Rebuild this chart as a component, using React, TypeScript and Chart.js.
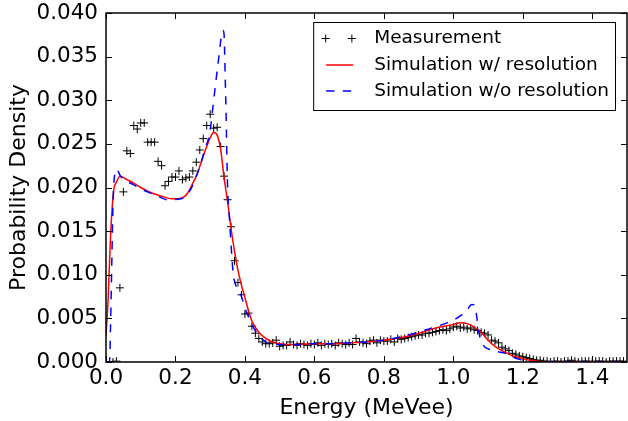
import React, { useEffect, useRef } from "react";
import { Chart, registerables } from "chart.js";

Chart.register(...registerables);

// ---- Data ----
const measEnergy = [
  0.01, 0.02, 0.03, 0.04, 0.05, 0.06, 0.07, 0.08, 0.09, 0.1,
  0.11, 0.12, 0.13, 0.14, 0.15, 0.16, 0.17, 0.18, 0.19, 0.2,
  0.21, 0.22, 0.23, 0.24, 0.25, 0.26, 0.27, 0.28, 0.29, 0.3,
  0.31, 0.32, 0.33, 0.34, 0.35, 0.36, 0.37, 0.38, 0.39, 0.4,
  0.41, 0.42, 0.43, 0.44, 0.45, 0.46, 0.47, 0.48, 0.49, 0.5,
  0.51, 0.52, 0.53, 0.54, 0.55, 0.56, 0.57, 0.58, 0.59, 0.6,
  0.61, 0.62, 0.63, 0.64, 0.65, 0.66, 0.67, 0.68, 0.69, 0.7,
  0.71, 0.72, 0.73, 0.74, 0.75, 0.76, 0.77, 0.78, 0.79, 0.8,
  0.81, 0.82, 0.83, 0.84, 0.85, 0.86, 0.87, 0.88, 0.89, 0.9,
  0.91, 0.92, 0.93, 0.94, 0.95, 0.96, 0.97, 0.98, 0.99, 1.0,
  1.01, 1.02, 1.03, 1.04, 1.05, 1.06, 1.07, 1.08, 1.09, 1.1,
  1.11, 1.12, 1.13, 1.14, 1.15, 1.16, 1.17, 1.18, 1.19, 1.2,
  1.21, 1.22, 1.23, 1.24, 1.25, 1.26, 1.27, 1.28, 1.29, 1.3,
  1.31, 1.32, 1.33, 1.34, 1.35, 1.36, 1.37, 1.38, 1.39, 1.4,
  1.41, 1.42, 1.43, 1.44, 1.45, 1.46, 1.47, 1.48, 1.49,
];
const measDensity = [
  0, 0, 0.0001, 0.0085, 0.0195, 0.0242, 0.0239, 0.0271, 0.0267, 0.0274,
  0.0274, 0.0252, 0.0252, 0.0252, 0.023, 0.0225, 0.0202, 0.0207, 0.0212, 0.0212,
  0.0219, 0.0209, 0.0211, 0.0212, 0.0219, 0.0229, 0.0243, 0.0256, 0.0271, 0.0284,
  0.0268, 0.0269, 0.0247, 0.0213, 0.0186, 0.0155, 0.0116, 0.0091, 0.0077, 0.0055,
  0.0056, 0.0041, 0.0033, 0.0027, 0.0023, 0.0021, 0.0021, 0.0022, 0.0025, 0.0018,
  0.0019, 0.0019, 0.0023, 0.002, 0.0019, 0.0021, 0.002, 0.0019, 0.0021, 0.002,
  0.0022, 0.0019, 0.0021, 0.002, 0.0021, 0.0019, 0.0022, 0.0021, 0.002, 0.0022,
  0.002, 0.0027, 0.0023, 0.0022, 0.0021, 0.0024, 0.0025, 0.0022, 0.0025, 0.0024,
  0.0024, 0.0026, 0.0023, 0.0027, 0.0026, 0.0027, 0.0028, 0.0029, 0.003, 0.0031,
  0.0031, 0.0033, 0.0033, 0.0034, 0.0035, 0.0036, 0.0037, 0.0036, 0.0038, 0.004,
  0.0041, 0.0039, 0.004, 0.0038, 0.0039, 0.0037, 0.0036, 0.0034, 0.0033, 0.0031,
  0.0025, 0.0024, 0.0022, 0.0017, 0.0015, 0.0013, 0.001, 0.0009, 0.0007, 0.0006,
  0.0005, 0.0004, 0.0003, 0.0002, 0.0002, 0.0001, 0.0001, 0, 0.0001, 0.0001,
  0, 0.0001, 0.0001, 0.0002, 0.0001, 0, 0.0001, 0.0001, 0.0001, 0,
  0.0001, 0.0001, 0.0001, 0, 0.0001, 0.0001, 0.0001, 0.0001, 0.0001,
];

const simResEnergy = [
  0, 0.006, 0.0135, 0.022, 0.03, 0.04, 0.06, 0.08, 0.1, 0.13,
  0.16, 0.19, 0.21, 0.23, 0.24, 0.25, 0.26, 0.27, 0.28, 0.29,
  0.3, 0.31, 0.32, 0.33, 0.34, 0.35, 0.36, 0.37, 0.38, 0.39,
  0.4, 0.41, 0.42, 0.44, 0.46, 0.48, 0.5, 0.55, 0.6, 0.65,
  0.7, 0.75, 0.8, 0.85, 0.9, 0.95, 1.0, 1.02, 1.04, 1.06,
  1.08, 1.1, 1.12, 1.14, 1.16, 1.18, 1.2, 1.22, 1.24, 1.26,
  1.3, 1.5,
];
const simResDensity = [
  0.003, 0.0071, 0.0148, 0.0196, 0.0206, 0.0213, 0.0209, 0.0205, 0.02, 0.0194,
  0.019, 0.0187, 0.0187, 0.0191, 0.0197, 0.0205, 0.0213, 0.0224, 0.0236, 0.0247,
  0.0257, 0.0263, 0.026, 0.0244, 0.0211, 0.0184, 0.0153, 0.0127, 0.0105, 0.0088,
  0.0074, 0.0059, 0.0047, 0.0034, 0.0027, 0.0023, 0.0021, 0.002, 0.0021, 0.0021,
  0.0022, 0.0023, 0.0025, 0.0028, 0.0033, 0.0039, 0.0043, 0.0045, 0.0044, 0.004,
  0.0034, 0.0025, 0.0018, 0.0013, 0.0009, 0.0006, 0.0004, 0.0002, 0.0001, 0.00003,
  0, 0,
];

const simNoResEnergy = [
  0, 0.01, 0.013, 0.017, 0.02, 0.025, 0.03, 0.042, 0.08, 0.119,
  0.15, 0.176, 0.215, 0.244, 0.256, 0.27, 0.285, 0.299, 0.308, 0.322,
  0.337, 0.34, 0.343, 0.346, 0.348, 0.35, 0.355, 0.361, 0.366, 0.372,
  0.38, 0.39, 0.4, 0.41, 0.42, 0.43, 0.44, 0.46, 0.48, 0.5,
  0.55, 0.6, 0.65, 0.7, 0.75, 0.8, 0.85, 0.89, 0.93, 0.976,
  1.0, 1.024, 1.04, 1.053, 1.062, 1.068, 1.074, 1.085, 1.1, 1.11,
  1.125, 1.15, 1.17, 1.19, 1.21, 1.23, 1.5,
];
const simNoResDensity = [
  0, 0, 0.004, 0.012, 0.018, 0.0215, 0.0221, 0.0213, 0.0203, 0.0195,
  0.019, 0.0186, 0.0187, 0.0198, 0.0209, 0.0224, 0.0244, 0.0263, 0.0293, 0.034,
  0.038, 0.0375, 0.033, 0.028, 0.0236, 0.0201, 0.0167, 0.0129, 0.0102, 0.009,
  0.0083, 0.0075, 0.0062, 0.0052, 0.0043, 0.0036, 0.003, 0.0023, 0.002, 0.002,
  0.002, 0.0021, 0.0021, 0.0022, 0.0023, 0.0025, 0.0029, 0.0033, 0.0038, 0.0044,
  0.0048, 0.0054, 0.006, 0.0066, 0.0065, 0.005, 0.0033, 0.002, 0.0015, 0.0014,
  0.0012, 0.001, 0.0006, 0.0003, 0.0001, 0, 0,
];

const seriesLabels = ["Measurement", "Simulation w/ resolution", "Simulation w/o resolution"];
const xTickValues = [0, 0.2, 0.4, 0.6, 0.8, 1.0, 1.2, 1.4];
const yTickValues = [0, 0.005, 0.01, 0.015, 0.02, 0.025, 0.03, 0.035, 0.04];

const FONT = "'DejaVu Sans', 'Liberation Sans', sans-serif";
const DASH = [8.3, 8.3];
const PLOT_RIGHT_GAP = 1;

const fixAreaPlugin = {
  id: "fixArea",
  afterLayout(chart: any) {
    const target = chart.width - PLOT_RIGHT_GAP;
    const a = chart.chartArea;
    if (Math.abs(a.right - target) > 0.5) {
      a.right = target;
      a.width = a.right - a.left;
      const xs = chart.scales.x;
      xs.right = target;
      xs.width = xs.right - xs.left;
      xs.configure();
      chart.scales.y.configure();
    }
  },
};

const frameTicksPlugin = {
  id: "frameTicks",
  afterDatasetsDraw(chart: any) {
    const { ctx, chartArea: a } = chart;
    const xs = chart.scales.x;
    const ys = chart.scales.y;
    const L = 6;
    ctx.save();
    ctx.strokeStyle = "#000";
    ctx.lineWidth = 1;
    ctx.beginPath();
    xs.ticks.forEach((t: any) => {
      const px = Math.round(xs.getPixelForValue(t.value)) + 0.5;
      ctx.moveTo(px, a.bottom);
      ctx.lineTo(px, a.bottom - L);
      ctx.moveTo(px, a.top);
      ctx.lineTo(px, a.top + L);
    });
    ys.ticks.forEach((t: any) => {
      const py = Math.round(ys.getPixelForValue(t.value)) + 0.5;
      ctx.moveTo(a.left, py);
      ctx.lineTo(a.left + L, py);
      ctx.moveTo(a.right, py);
      ctx.lineTo(a.right - L, py);
    });
    ctx.stroke();
    ctx.lineWidth = 1.5;
    ctx.strokeRect(a.left, a.top, a.right - a.left, a.bottom - a.top);
    ctx.restore();
  },
};

const legendPlugin = {
  id: "boxLegend",
  afterDraw(chart: any) {
    const { ctx, chartArea: a } = chart;
    ctx.save();
    ctx.font = `18.5px ${FONT}`;
    const textW = Math.max(...seriesLabels.map((s) => ctx.measureText(s).width));
    const w = 61 + textW + 6;
    const h = 88;
    const x0 = a.right - 12 - w;
    const y0 = a.top + 9;
    ctx.fillStyle = "#fff";
    ctx.fillRect(x0, y0, w, h);
    ctx.strokeStyle = "#000";
    ctx.lineWidth = 1;
    ctx.strokeRect(x0 + 0.5, y0 + 0.5, w, h);
    const rows = [16.5, 43, 69];
    ctx.lineWidth = 1;
    [12.5, 38.7].forEach((dx) => {
      const cx = x0 + dx;
      const cy = y0 + rows[0];
      ctx.beginPath();
      ctx.moveTo(cx - 4, cy);
      ctx.lineTo(cx + 4, cy);
      ctx.moveTo(cx, cy - 4);
      ctx.lineTo(cx, cy + 4);
      ctx.stroke();
    });
    ctx.strokeStyle = "#ff0000";
    ctx.lineWidth = 1.5;
    ctx.beginPath();
    ctx.moveTo(x0 + 13, y0 + rows[1]);
    ctx.lineTo(x0 + 40, y0 + rows[1]);
    ctx.stroke();
    ctx.strokeStyle = "#0000ff";
    ctx.setLineDash(DASH);
    ctx.beginPath();
    ctx.moveTo(x0 + 13, y0 + rows[2]);
    ctx.lineTo(x0 + 40, y0 + rows[2]);
    ctx.stroke();
    ctx.setLineDash([]);
    ctx.fillStyle = "#000";
    ctx.textBaseline = "middle";
    ctx.textAlign = "left";
    seriesLabels.forEach((s, i) => ctx.fillText(s, x0 + 61, y0 + rows[i]));
    ctx.restore();
  },
};

export default function App() {
  const ref = useRef<HTMLCanvasElement | null>(null);

  useEffect(() => {
    document.body.style.margin = "0";
    const canvas = ref.current;
    if (!canvas) return;
    const chart = new Chart(canvas, {
      type: "scatter",
      data: {
        datasets: [
          {
            label: seriesLabels[2],
            data: simNoResEnergy.map((x, i) => ({ x, y: simNoResDensity[i] })),
            showLine: true,
            pointRadius: 0,
            borderColor: "#0000ff",
            backgroundColor: "#0000ff",
            borderWidth: 1.5,
            borderDash: DASH,
            cubicInterpolationMode: "monotone",
            order: 1,
          },
          {
            label: seriesLabels[1],
            data: simResEnergy.map((x, i) => ({ x, y: simResDensity[i] })),
            showLine: true,
            pointRadius: 0,
            borderColor: "#ff0000",
            backgroundColor: "#ff0000",
            borderWidth: 1.5,
            cubicInterpolationMode: "monotone",
            order: 2,
          },
          {
            label: seriesLabels[0],
            data: measEnergy.map((x, i) => ({ x, y: measDensity[i] })),
            showLine: false,
            pointStyle: "cross",
            pointRadius: 4,
            pointBorderWidth: 1,
            borderColor: "#000",
            backgroundColor: "#000",
            order: 3,
            clip: 0,
          },
        ],
      } as any,
      options: {
        animation: false,
        responsive: false,
        maintainAspectRatio: false,
        layout: { padding: { left: 0, right: PLOT_RIGHT_GAP, top: 1, bottom: 0 } },
        plugins: { legend: { display: false }, tooltip: { enabled: false } },
        scales: {
          x: {
            type: "linear",
            min: 0,
            max: 1.5,
            grid: { display: false, drawTicks: false },
            border: { display: false },
            ticks: {
              padding: 4,
              color: "#000",
              font: { family: FONT, size: 21.5 },
              maxRotation: 0,
              autoSkip: false,
              callback: (v: any) => Number(v).toFixed(1),
            },
            afterBuildTicks: (s: any) => {
              s.ticks = xTickValues.map((v) => ({ value: v }));
            },
            afterFit: (s: any) => {
              s.height = 59;
              s.paddingRight = 0;
              s.paddingLeft = 0;
              s.paddingTop = 0;
              s.paddingBottom = 0;
            },
            title: {
              display: true,
              text: "Energy (MeVee)",
              color: "#000",
              font: { family: FONT, size: 22 },
              padding: { top: 0, bottom: 0 },
            },
          },
          y: {
            type: "linear",
            min: 0,
            max: 0.04,
            grid: { display: false, drawTicks: false },
            border: { display: false },
            ticks: {
              padding: 8,
              color: "#000",
              font: { family: FONT, size: 21.5 },
              autoSkip: false,
              callback: (v: any) => Number(v).toFixed(3),
            },
            afterBuildTicks: (s: any) => {
              s.ticks = yTickValues.map((v) => ({ value: v }));
            },
            afterFit: (s: any) => {
              s.width = 106;
              s.paddingTop = 13;
              s.paddingBottom = 0;
              s.paddingLeft = 0;
              s.paddingRight = 0;
            },
            title: {
              display: true,
              text: "Probability Density",
              color: "#000",
              font: { family: FONT, size: 22 },
              padding: { top: 6, bottom: 0 },
            },
          },
        },
      } as any,
      plugins: [fixAreaPlugin, frameTicksPlugin, legendPlugin],
    });
    return () => chart.destroy();
  }, []);

  return (
    <div style={{ width: 628, height: 421 }}>
      <canvas ref={ref} width={628} height={421} style={{ display: "block" }} />
    </div>
  );
}
